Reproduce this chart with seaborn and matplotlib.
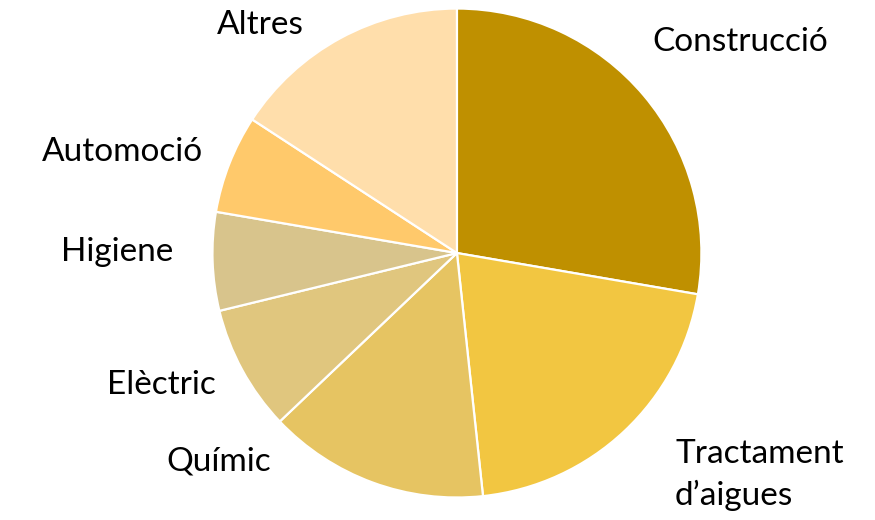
import matplotlib
matplotlib.use("Agg")
import matplotlib.pyplot as plt
import seaborn as sns

# sectors, clockwise from 12 o'clock (share in %)
sectors = ["Construcció", "Tractament\nd\u2019aigues", "Químic", "Elèctric",
           "Higiene", "Automoció", "Altres"]
shares = [27.7, 20.6, 14.6, 8.3, 6.5, 6.5, 15.8]
colors = ["#BF9000", "#F2C641", "#E6C462", "#E0C67E", "#D8C48C", "#FFC96B", "#FFDEAB"]

sns.set_theme(style="white")
plt.rcParams["font.family"] = ["Lato", "DejaVu Sans"]

fig = plt.figure(figsize=(8.75, 5.2), dpi=100)
ax = fig.add_axes([0, 0, 1, 1])

wedges, texts = ax.pie(
    shares, labels=sectors, colors=colors, startangle=90, counterclock=False,
    wedgeprops=dict(edgecolor="white", linewidth=1.6),
    textprops=dict(fontsize=24, color="black"),
)

# label placement like the original (data units, radius = 1)
label_pos = [(1.157, 0.863, "center"), (0.892, -0.908, "left"), (-0.973, -0.851, "center"),
             (-1.207, -0.540, "center"), (-1.391, 0.004, "center"), (-1.370, 0.413, "center"),
             (-0.806, 0.933, "center")]
for t, (x, y, ha) in zip(texts, label_pos):
    t.set_position((x, y))
    t.set_ha(ha)
    t.set_va("center")
    t.set_linespacing(1.4)

ax.set_xlim(-1.869, 1.710)
ax.set_ylim(-1.092, 1.035)
ax.set_aspect("equal")
ax.axis("off")

fig.savefig("out.png", dpi=100)
